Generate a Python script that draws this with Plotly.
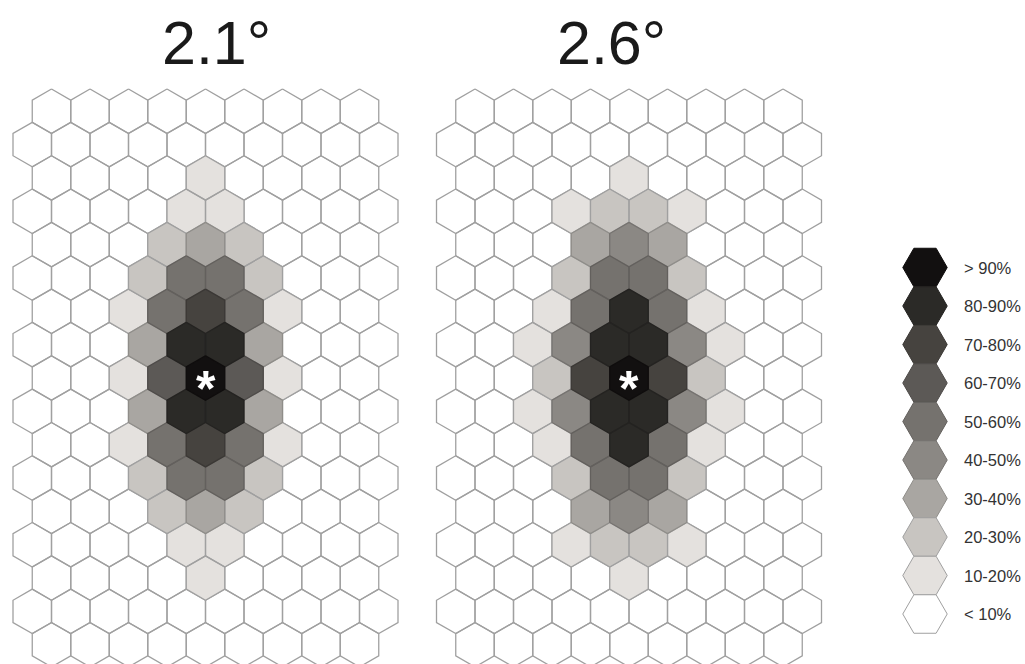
import math
import plotly.graph_objects as go

# Shading classes (index = class number), lightest to darkest
LEVEL_LABELS = ["< 10%", "10-20%", "20-30%", "30-40%", "40-50%",
                "50-60%", "60-70%", "70-80%", "80-90%", "> 90%"]
LEVEL_COLORS = ["#ffffff", "#e4e1de", "#c8c5c1", "#a9a6a2", "#8b8884",
                "#75726e", "#5c5956", "#46433f", "#2b2a27", "#121010"]

PANEL_TITLES = ["2.1°", "2.6°"]

# Class per hexagon, one string per row (top to bottom).
# Even rows hold 9 cells, odd rows hold 10 cells (offset by half a cell).
GRID_21 = [
    "000000000",
    "0000000000",
    "000010000",
    "0000110000",
    "000232000",
    "0002552000",
    "001575100",
    "0003883000",
    "001696100",
    "0003883000",
    "001575100",
    "0002552000",
    "000232000",
    "0000110000",
    "000010000",
    "0000000000",
    "000000000",
]

GRID_26 = [
    "000000000",
    "0000000000",
    "000010000",
    "0001221000",
    "000343000",
    "0002552000",
    "001585100",
    "0014884100",
    "002797200",
    "0014884100",
    "001585100",
    "0002552000",
    "000343000",
    "0001221000",
    "000010000",
    "0000000000",
    "000000000",
]

PANELS = [GRID_21, GRID_26]

# Geometry in hex-width units
R = 1 / math.sqrt(3)          # circumradius of a hexagon with width 1
ROW_PITCH = 1.5 * R
PANEL_GAP = 11                # horizontal distance between panel centres
PX = 38.5                     # pixels per unit
W, H = 1025, 664
ORIGIN_PX = (205.5, 378.0)    # pixel position of the left panel's centre cell


def hex_path(cx, cy, flat=False):
    start = 0 if flat else 90
    xs, ys = [], []
    for k in range(7):
        a = math.radians(start + 60 * k)
        xs.append(cx + R * math.cos(a))
        ys.append(cy + R * math.sin(a))
    return xs, ys


def edge_color(hexcol):
    r, g, b = (int(hexcol[i:i + 2], 16) for i in (1, 3, 5))
    r, g, b = (min(160, int(c * 0.85)) for c in (r, g, b))
    return f"rgb({r},{g},{b})"


fig = go.Figure()

# Collect hexagon outlines per class
polys = {lvl: ([], []) for lvl in range(len(LEVEL_COLORS))}
centres = []
for p, grid in enumerate(PANELS):
    ox = p * PANEL_GAP
    nrows = len(grid)
    mid = nrows // 2
    for r, row in enumerate(grid):
        n = len(row)
        cy = (mid - r) * ROW_PITCH
        for c, ch in enumerate(row):
            cx = ox + c - (n - 1) / 2
            lvl = int(ch)
            xs, ys = hex_path(cx, cy)
            polys[lvl][0].extend(xs + [None])
            polys[lvl][1].extend(ys + [None])
            if lvl == len(LEVEL_COLORS) - 1:
                centres.append((cx, cy))

for lvl in range(len(LEVEL_COLORS)):
    xs, ys = polys[lvl]
    if not xs:
        continue
    fig.add_trace(go.Scatter(
        x=xs, y=ys, mode="lines", fill="toself",
        fillcolor=LEVEL_COLORS[lvl],
        line=dict(color=edge_color(LEVEL_COLORS[lvl]), width=1.3),
        hoverinfo="skip", showlegend=False))

# Legend column of flat-topped hexagons
leg_x = (925 - ORIGIN_PX[0]) / PX
leg_y0 = (ORIGIN_PX[1] - 267.5) / PX
label_x = (962 - ORIGIN_PX[0]) / PX
for i, lvl in enumerate(reversed(range(len(LEVEL_COLORS)))):
    cy = leg_y0 - i * 1.0
    xs, ys = hex_path(leg_x, cy, flat=True)
    fig.add_trace(go.Scatter(
        x=xs, y=ys, mode="lines", fill="toself",
        fillcolor=LEVEL_COLORS[lvl],
        line=dict(color=edge_color(LEVEL_COLORS[lvl]), width=1),
        hoverinfo="skip", showlegend=False))
    fig.add_annotation(x=label_x, y=cy, text=LEVEL_LABELS[lvl],
                       xanchor="left", yanchor="middle", showarrow=False,
                       font=dict(family="Liberation Sans, Arial", size=16.5,
                                 color="#333333"))

# Fixation marker in the centre cell
for cx, cy in centres:
    fig.add_annotation(x=cx, y=cy, text="<b>*</b>", showarrow=False,
                       xanchor="center", yanchor="middle", yshift=-11,
                       font=dict(family="Liberation Sans, Arial", size=50,
                                 color="#ffffff"))

# Panel titles
title_left_px = [160, 555]
for t, lx in zip(PANEL_TITLES, title_left_px):
    fig.add_annotation(x=(lx - ORIGIN_PX[0]) / PX,
                       y=(ORIGIN_PX[1] - 43) / PX,
                       text=t, showarrow=False, xanchor="left",
                       yanchor="middle",
                       font=dict(family="Liberation Sans, Arial", size=61,
                                 color="#1a1a1a"))

x0 = -ORIGIN_PX[0] / PX
y1 = ORIGIN_PX[1] / PX
fig.update_xaxes(range=[x0, x0 + W / PX], visible=False, fixedrange=True)
fig.update_yaxes(range=[y1 - H / PX, y1], visible=False, fixedrange=True)
fig.update_layout(width=W, height=H, margin=dict(l=0, r=0, t=0, b=0),
                  paper_bgcolor="#ffffff", plot_bgcolor="#ffffff")

fig.write_html("out.html")
